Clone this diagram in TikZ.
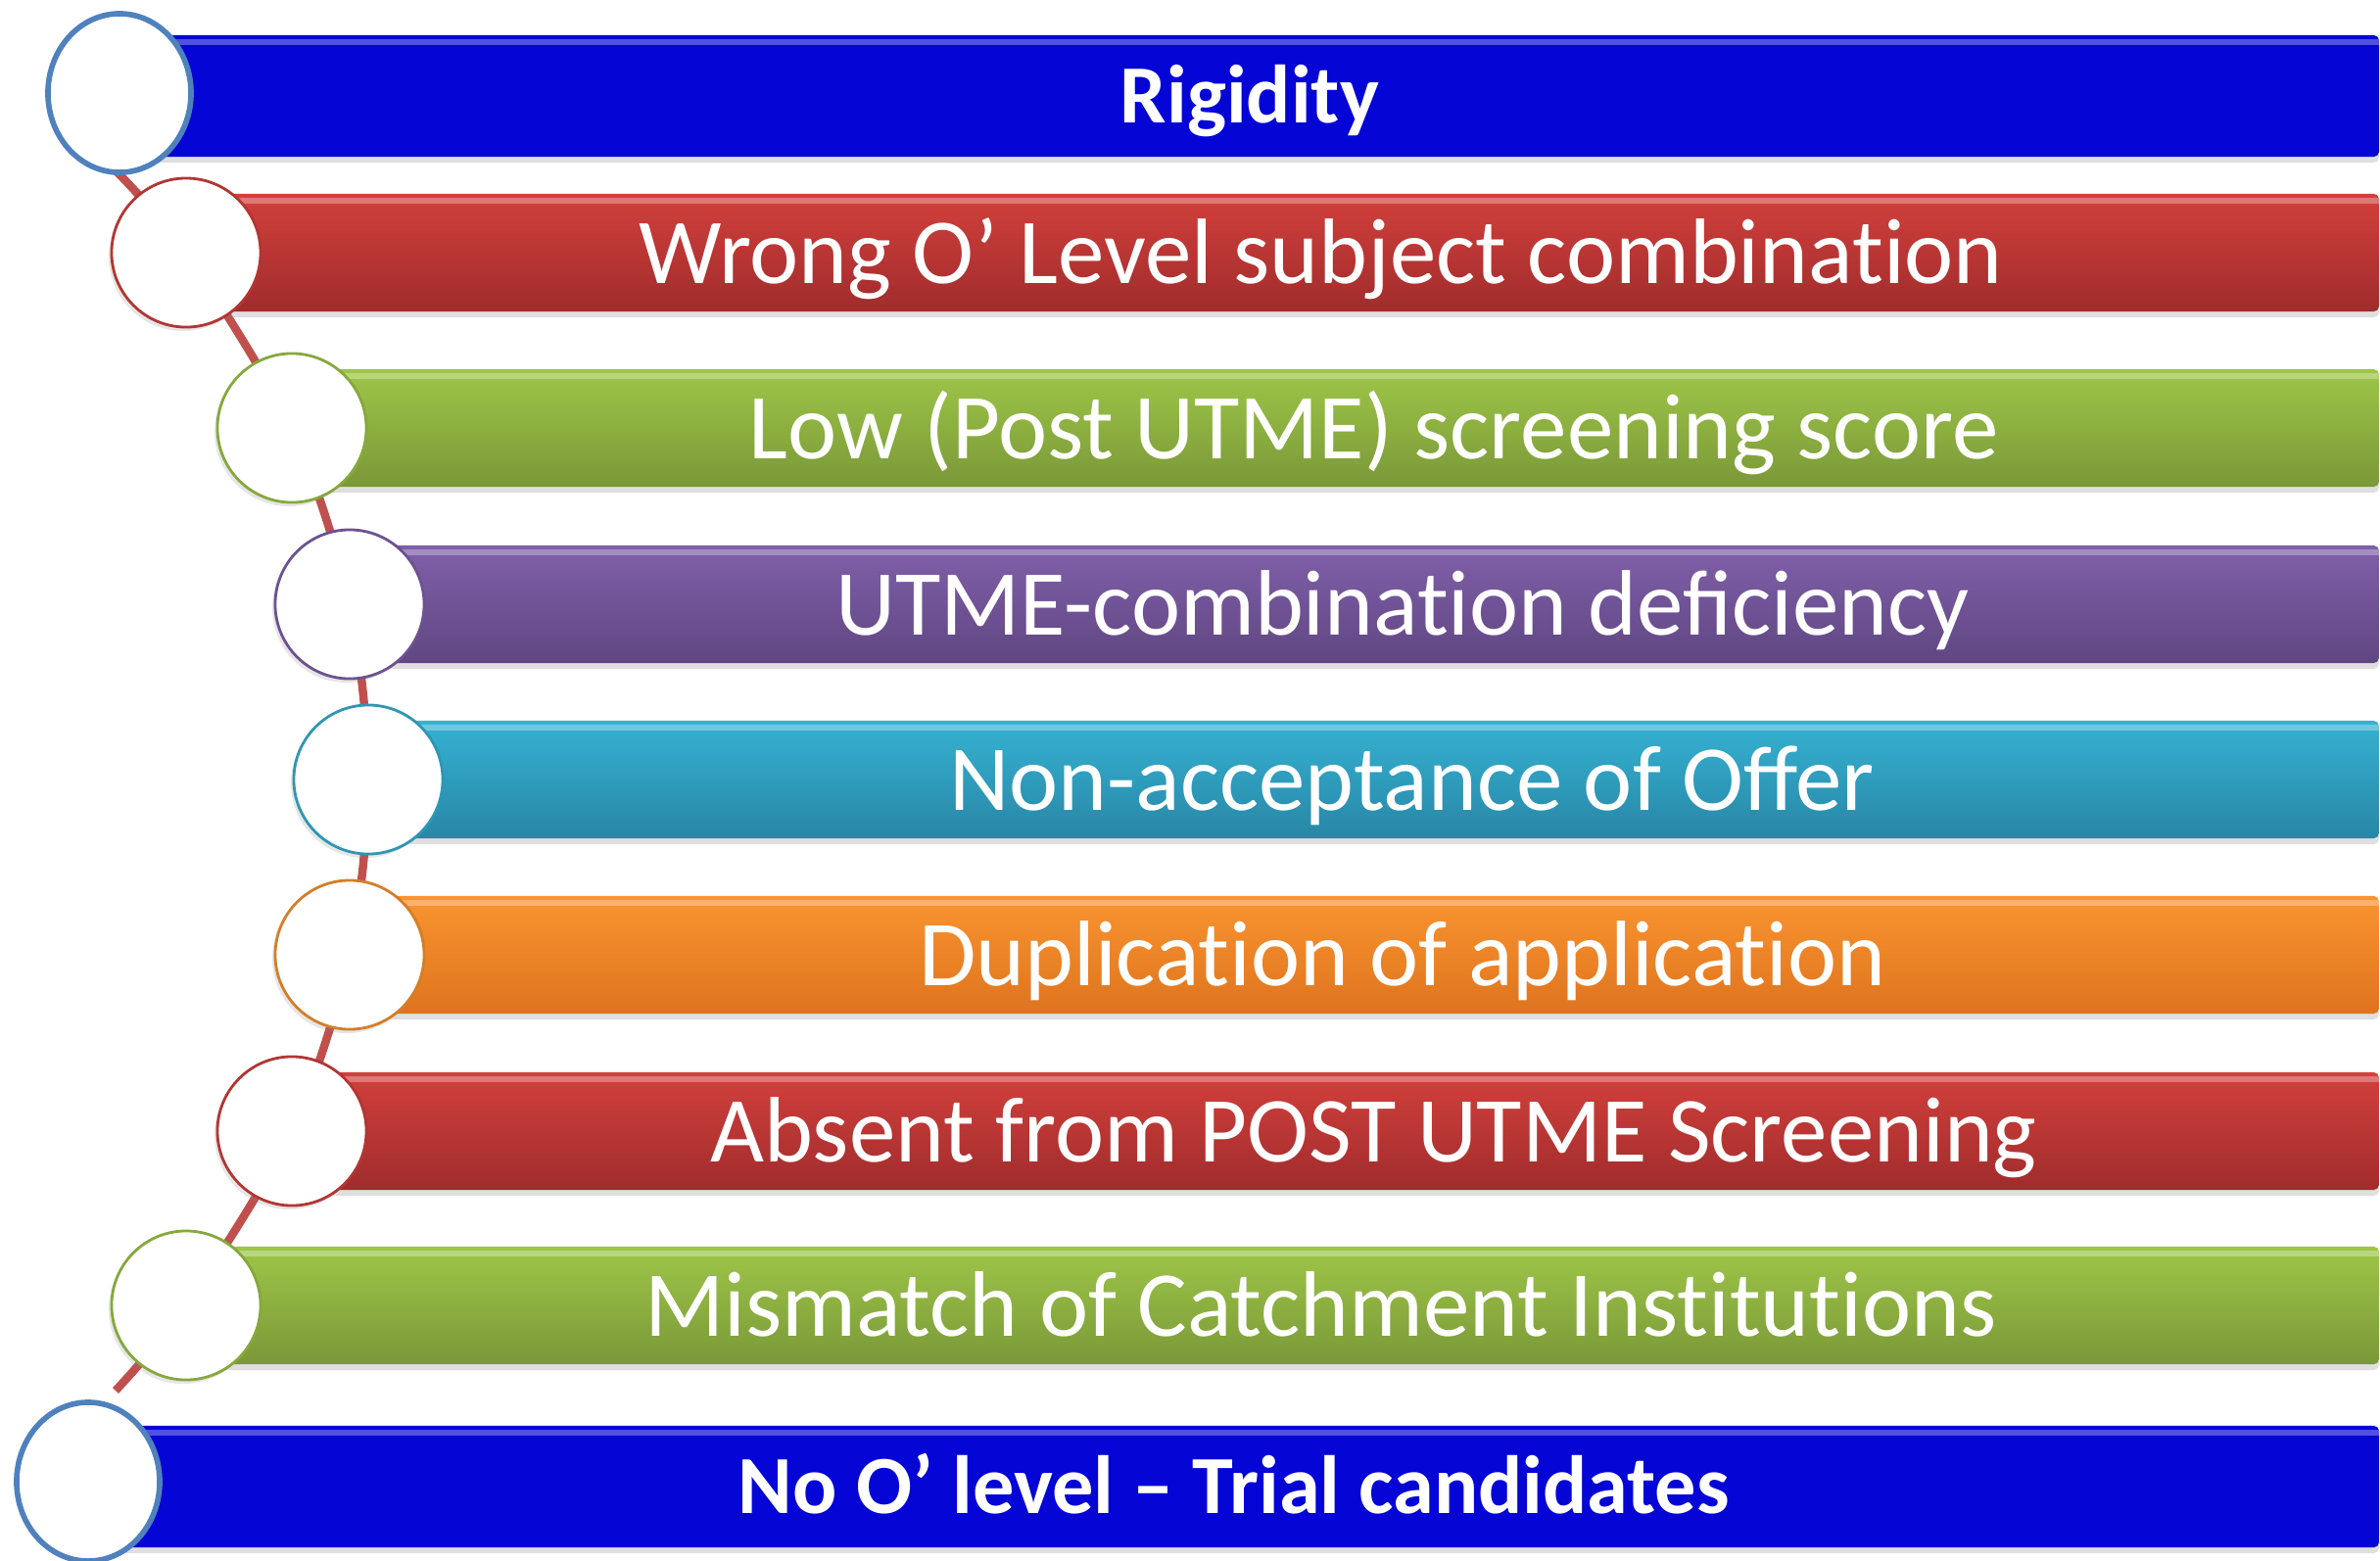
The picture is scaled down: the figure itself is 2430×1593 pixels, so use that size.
\documentclass[tikz,border=0pt]{standalone}
\usepackage{fontspec}
\setmainfont{Carlito}
\usetikzlibrary{shapes.geometric,shadows,backgrounds,calc}

% keep "t" and "i" apart (no ligature)
\newcommand\splitti{t\kern0pt i}

\definecolor{barblue}{RGB}{5,5,214}
\definecolor{ringblue}{RGB}{79,129,189}
\definecolor{spinered}{RGB}{192,80,77}
\definecolor{redA}{RGB}{210,64,60}
\definecolor{redB}{RGB}{160,44,44}
\definecolor{greenA}{RGB}{158,198,72}
\definecolor{greenB}{RGB}{122,152,56}
\definecolor{purpleA}{RGB}{128,96,170}
\definecolor{purpleB}{RGB}{96,70,130}
\definecolor{cyanA}{RGB}{54,178,210}
\definecolor{cyanB}{RGB}{40,134,166}
\definecolor{orangeA}{RGB}{250,148,48}
\definecolor{orangeB}{RGB}{222,116,30}

\begin{document}
\begin{tikzpicture}[
        x=0.01cm, y=-0.01cm,
        bar/.style={anchor=west, minimum height=1.20cm, inner sep=0pt, rounded corners=1.5pt,
            drop shadow={shadow xshift=0cm, shadow yshift=-0.06cm, opacity=0.25},
            path picture={\draw[white, opacity=0.3, line width=1.5pt]
                ([yshift=-0.07cm]path picture bounding box.north west) --
                ([yshift=-0.07cm]path picture bounding box.north east);}},
        ring/.style={circle, draw=#1, fill=white, line width=0.8pt, minimum size=1.52cm,
            drop shadow={shadow xshift=-0.03cm, shadow yshift=-0.04cm, opacity=0.2}},
        endring/.style={ellipse, draw=ringblue, fill=white, line width=1.6pt,
            minimum width=1.46cm, minimum height=1.62cm},
        caption/.style={text=white, font=\fontsize{27}{30}\selectfont, anchor=base, yshift=-0.31cm},
        bigcaption/.style={text=white, font=\bfseries\fontsize{24}{28}\selectfont, anchor=base, yshift=-0.27cm},
        spine/.style={spinered, line width=2.4pt},
    ]
    \useasboundingbox (0,0) rectangle (2430,1593);

    % top and bottom blue rows
    \node[bar, fill=barblue, minimum height=1.24cm, minimum width=23.05cm] (b1) at (122,98) {};
    \node[endring] (c1) at (122,95) {};
    \node[bigcaption] (t1) at (b1.center) {Rigidity};
    \node[bar, fill=barblue, minimum height=1.24cm, minimum width=23.37cm] (b9) at (90,1518) {};
    \node[endring] (c9) at (90,1513) {};
    \node[bigcaption] (t9) at (b9.center) {No O’ level – Trial candidates};

    % coloured rows
    \foreach \i/\cx/\cy/\col/\txt in {
        2/190/258/red/{Wrong O’ Level subject combina\splitti on},
        3/298/437/green/{Low (Post UTME) screening score},
        4/357/617/purple/{UTME-combina\splitti on deficiency},
        5/376/796/cyan/{Non-acceptance of Offer},
        6/357/975/orange/{Duplica\splitti on of applica\splitti on},
        7/298/1155/red/{Absent from POST UTME Screening},
        8/190/1333/green/{Mismatch of Catchment Ins\splitti tu\splitti ons}}{
        \pgfmathsetmacro\bw{(2427-\cx)/100}
        \node[bar, top color=\col A, bottom color=\col B, minimum width=\bw cm] (b\i) at (\cx,\cy) {};
        \node[ring=\col A!85!black] (c\i) at (\cx,\cy) {};
        \node[caption] (t\i) at ($(c\i.east)!0.5!(b\i.east)$) {\txt};
    }

    % spine behind the rings
    \coordinate (head) at (118,174);
    \coordinate (tail) at (118,1420);
    \begin{pgfonlayer}{background}
        \draw[spine] plot[smooth] coordinates {(head) (c2.center) (c3.center) (c4.center)
            (c5.center) (c6.center) (c7.center) (c8.center) (tail)};
    \end{pgfonlayer}
\end{tikzpicture}
\end{document}
